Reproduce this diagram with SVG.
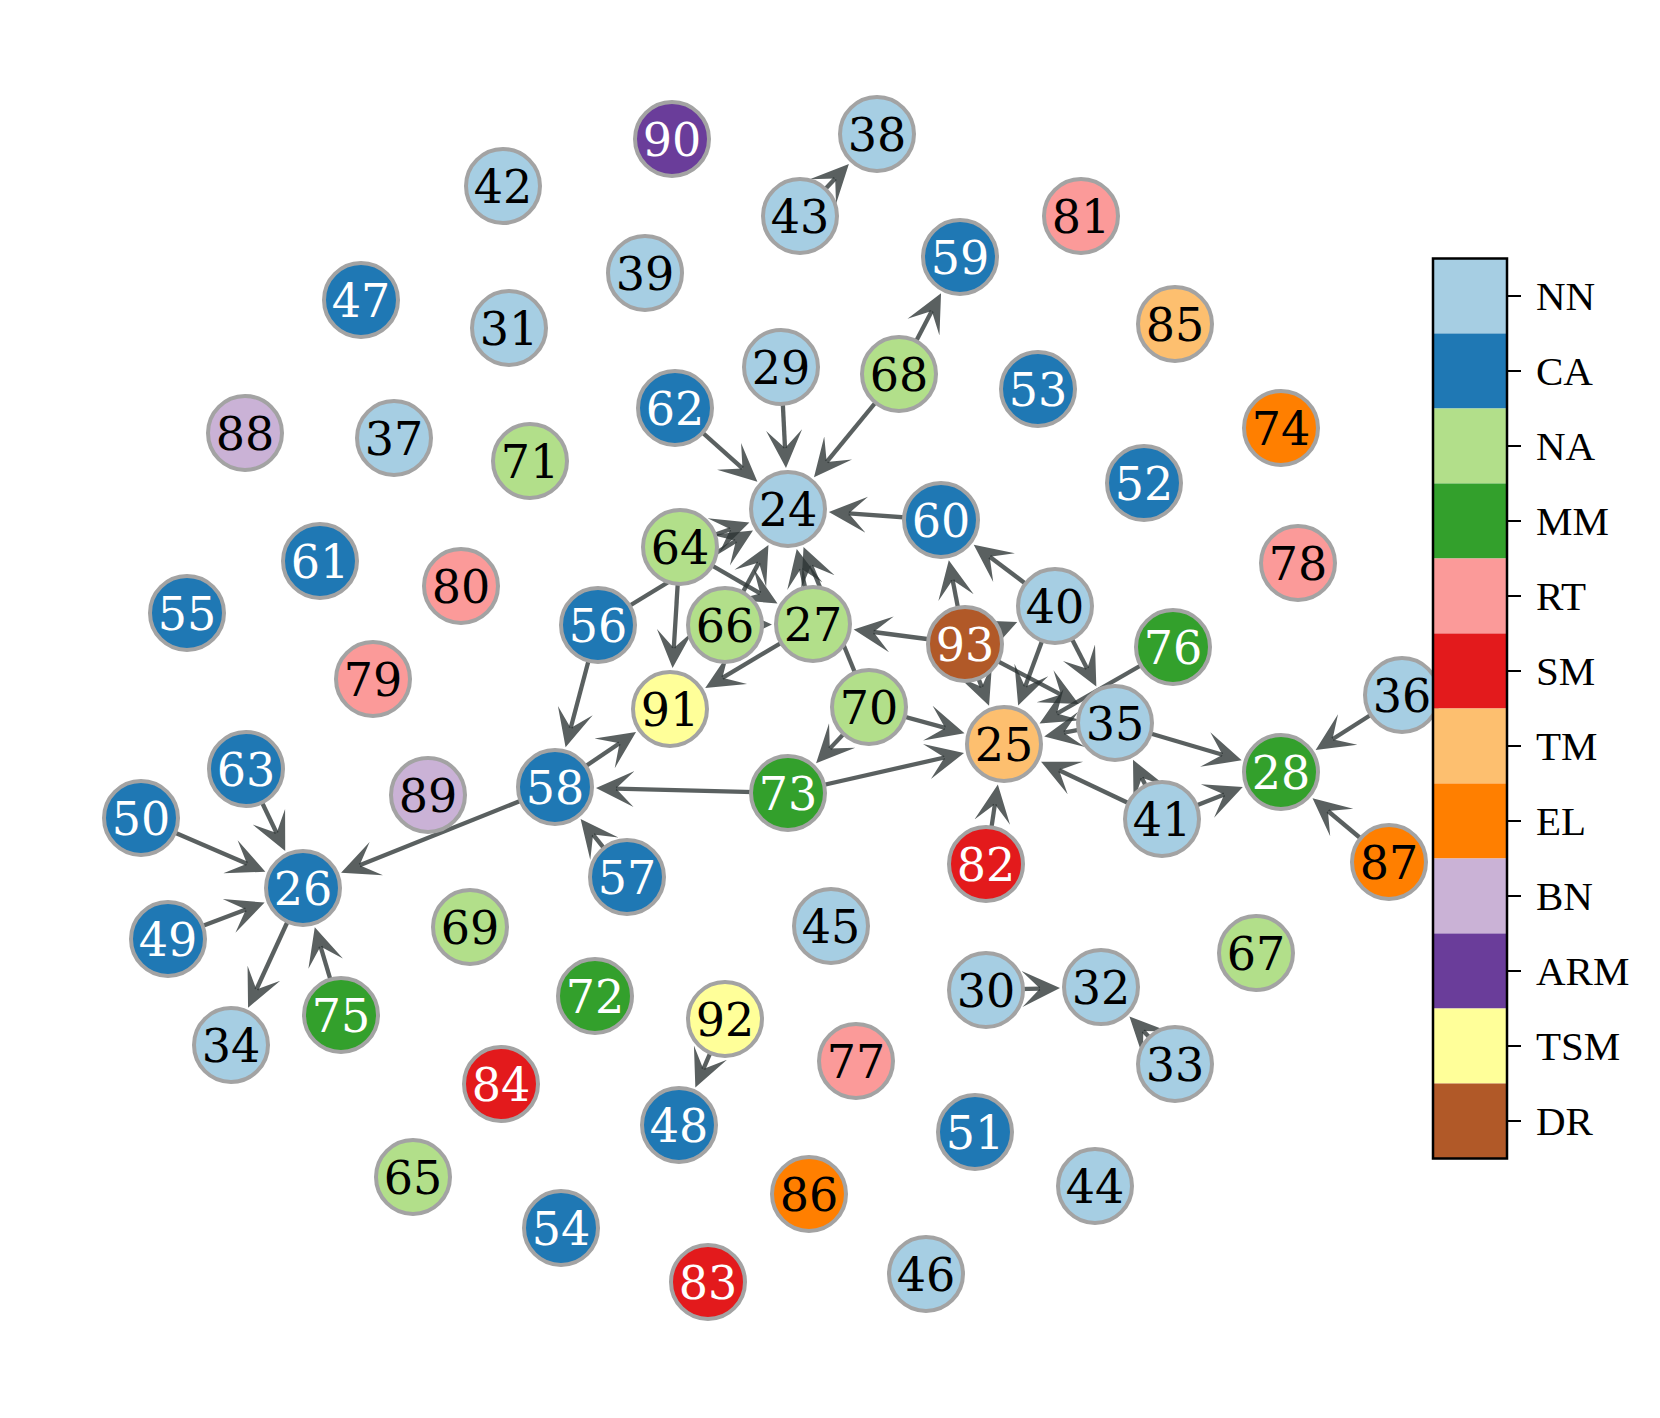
<svg xmlns="http://www.w3.org/2000/svg" width="1660" height="1418" viewBox="0 0 1660 1418">
<defs>
<marker id="ah" viewBox="0 0 40 40" markerWidth="40" markerHeight="40" refX="18" refY="20" orient="auto" markerUnits="userSpaceOnUse">
<path d="M38,20 L0,2 L18,20 L0,38 Z" fill="#2b3333" fill-opacity="0.78"/>
</marker>
</defs>
<style>
.e line{stroke:#2b3333;stroke-opacity:0.78;stroke-width:4.3;marker-end:url(#ah)}
.nd circle{stroke:#a3a3a3;stroke-width:4}
.nd text{font-family:"DejaVu Serif",serif;font-size:46px;text-anchor:middle}
.w text{fill:#ffffff}
.k text{fill:#000000}
.NN{fill:#a6cee3}.CA{fill:#1f78b4}.NA{fill:#b2df8a}.MM{fill:#33a02c}.RT{fill:#fb9a99}.SM{fill:#e31a1c}
.TM{fill:#fdbf6f}.EL{fill:#ff7f00}.BN{fill:#cab2d6}.ARM{fill:#6a3d9a}.TSM{fill:#ffff99}.DR{fill:#b15928}
.cb text{font-family:"Liberation Serif",serif;font-size:41px;fill:#000}
.cb line{stroke:#000;stroke-width:2}
</style>
<rect width="1660" height="1418" fill="#ffffff"/>
<g id="connectors" class="e">
<line x1="800" y1="216" x2="835.2" y2="178.5"/>
<line x1="899" y1="374" x2="931.8" y2="311.1"/>
<line x1="899" y1="374" x2="826.7" y2="461.9"/>
<line x1="781" y1="367" x2="785" y2="448.1"/>
<line x1="675" y1="408" x2="742.5" y2="468.4"/>
<line x1="941" y1="520" x2="848.8" y2="513.4"/>
<line x1="680" y1="547" x2="730.5" y2="529.2"/>
<line x1="598" y1="625" x2="735.9" y2="540.8"/>
<line x1="725" y1="625" x2="758.9" y2="562.6"/>
<line x1="813" y1="624" x2="801" y2="568.6"/>
<line x1="869" y1="707" x2="811.1" y2="565.5"/>
<line x1="680" y1="547" x2="760.2" y2="593.4"/>
<line x1="725" y1="625" x2="752" y2="624.7"/>
<line x1="680" y1="547" x2="673.8" y2="648.1"/>
<line x1="813" y1="624" x2="722.4" y2="677.8"/>
<line x1="598" y1="625" x2="570.7" y2="728"/>
<line x1="555" y1="787" x2="619.5" y2="743.2"/>
<line x1="788" y1="793" x2="616" y2="788.6"/>
<line x1="627" y1="877" x2="593.1" y2="834.6"/>
<line x1="555" y1="787" x2="359.6" y2="865.3"/>
<line x1="246" y1="769" x2="276.6" y2="833"/>
<line x1="141" y1="818" x2="247" y2="863.8"/>
<line x1="168" y1="939" x2="245.9" y2="909.6"/>
<line x1="341" y1="1015" x2="320.5" y2="946.4"/>
<line x1="303" y1="888" x2="256.4" y2="989.5"/>
<line x1="869" y1="707" x2="829.8" y2="748.6"/>
<line x1="869" y1="707" x2="945.2" y2="727.9"/>
<line x1="788" y1="793" x2="944.5" y2="757.5"/>
<line x1="965" y1="644" x2="873.5" y2="632"/>
<line x1="965" y1="644" x2="952.6" y2="579.9"/>
<line x1="965" y1="644" x2="998.8" y2="629.7"/>
<line x1="965" y1="644" x2="981.8" y2="687.1"/>
<line x1="965" y1="644" x2="1061" y2="694.6"/>
<line x1="1055" y1="606" x2="989.7" y2="556.7"/>
<line x1="1055" y1="606" x2="1087.2" y2="668.7"/>
<line x1="1055" y1="606" x2="1025.1" y2="686.8"/>
<line x1="1173" y1="647" x2="1056.9" y2="713.6"/>
<line x1="1115" y1="723" x2="1063.9" y2="732.7"/>
<line x1="1115" y1="723" x2="1222.5" y2="754.7"/>
<line x1="1162" y1="819" x2="1059.1" y2="770.2"/>
<line x1="1162" y1="819" x2="1141.8" y2="777.8"/>
<line x1="1162" y1="819" x2="1224.2" y2="794.4"/>
<line x1="1402" y1="695" x2="1332.5" y2="739.2"/>
<line x1="1389" y1="862" x2="1327.9" y2="811"/>
<line x1="986" y1="864" x2="994.9" y2="804.3"/>
<line x1="986" y1="990" x2="1040" y2="988.6"/>
<line x1="1175" y1="1064" x2="1143.3" y2="1031"/>
<line x1="725" y1="1019" x2="703.3" y2="1069.1"/>
</g>
<g id="nodes">
<g id="n90" class="nd w"><circle class="ARM" cx="672" cy="139" r="37"/><text x="672" y="155.5">90</text></g>
<g id="n38" class="nd k"><circle class="NN" cx="877" cy="134" r="37"/><text x="877" y="150.5">38</text></g>
<g id="n43" class="nd k"><circle class="NN" cx="800" cy="216" r="37"/><text x="800" y="232.5">43</text></g>
<g id="n42" class="nd k"><circle class="NN" cx="503" cy="186" r="37"/><text x="503" y="202.5">42</text></g>
<g id="n81" class="nd k"><circle class="RT" cx="1081" cy="216" r="37"/><text x="1081" y="232.5">81</text></g>
<g id="n59" class="nd w"><circle class="CA" cx="960" cy="257" r="37"/><text x="960" y="273.5">59</text></g>
<g id="n39" class="nd k"><circle class="NN" cx="645" cy="273" r="37"/><text x="645" y="289.5">39</text></g>
<g id="n47" class="nd w"><circle class="CA" cx="361" cy="300" r="37"/><text x="361" y="316.5">47</text></g>
<g id="n31" class="nd k"><circle class="NN" cx="509" cy="328" r="37"/><text x="509" y="344.5">31</text></g>
<g id="n85" class="nd k"><circle class="TM" cx="1175" cy="324" r="37"/><text x="1175" y="340.5">85</text></g>
<g id="n29" class="nd k"><circle class="NN" cx="781" cy="367" r="37"/><text x="781" y="383.5">29</text></g>
<g id="n68" class="nd k"><circle class="NA" cx="899" cy="374" r="37"/><text x="899" y="390.5">68</text></g>
<g id="n62" class="nd w"><circle class="CA" cx="675" cy="408" r="37"/><text x="675" y="424.5">62</text></g>
<g id="n53" class="nd w"><circle class="CA" cx="1038" cy="389" r="37"/><text x="1038" y="405.5">53</text></g>
<g id="n74" class="nd k"><circle class="EL" cx="1281" cy="428" r="37"/><text x="1281" y="444.5">74</text></g>
<g id="n88" class="nd k"><circle class="BN" cx="245" cy="433" r="37"/><text x="245" y="449.5">88</text></g>
<g id="n37" class="nd k"><circle class="NN" cx="394" cy="438" r="37"/><text x="394" y="454.5">37</text></g>
<g id="n71" class="nd k"><circle class="NA" cx="530" cy="461" r="37"/><text x="530" y="477.5">71</text></g>
<g id="n52" class="nd w"><circle class="CA" cx="1144" cy="483" r="37"/><text x="1144" y="499.5">52</text></g>
<g id="n24" class="nd k"><circle class="NN" cx="788" cy="509" r="37"/><text x="788" y="525.5">24</text></g>
<g id="n60" class="nd w"><circle class="CA" cx="941" cy="520" r="37"/><text x="941" y="536.5">60</text></g>
<g id="n64" class="nd k"><circle class="NA" cx="680" cy="547" r="37"/><text x="680" y="563.5">64</text></g>
<g id="n78" class="nd k"><circle class="RT" cx="1298" cy="563" r="37"/><text x="1298" y="579.5">78</text></g>
<g id="n61" class="nd w"><circle class="CA" cx="320" cy="561" r="37"/><text x="320" y="577.5">61</text></g>
<g id="n80" class="nd k"><circle class="RT" cx="461" cy="586" r="37"/><text x="461" y="602.5">80</text></g>
<g id="n55" class="nd w"><circle class="CA" cx="187" cy="613" r="37"/><text x="187" y="629.5">55</text></g>
<g id="n56" class="nd w"><circle class="CA" cx="598" cy="625" r="37"/><text x="598" y="641.5">56</text></g>
<g id="n66" class="nd k"><circle class="NA" cx="725" cy="625" r="37"/><text x="725" y="641.5">66</text></g>
<g id="n27" class="nd k"><circle class="NA" cx="813" cy="624" r="37"/><text x="813" y="640.5">27</text></g>
<g id="n93" class="nd w"><circle class="DR" cx="965" cy="644" r="37"/><text x="965" y="660.5">93</text></g>
<g id="n40" class="nd k"><circle class="NN" cx="1055" cy="606" r="37"/><text x="1055" y="622.5">40</text></g>
<g id="n76" class="nd w"><circle class="MM" cx="1173" cy="647" r="37"/><text x="1173" y="663.5">76</text></g>
<g id="n79" class="nd k"><circle class="RT" cx="373" cy="679" r="37"/><text x="373" y="695.5">79</text></g>
<g id="n91" class="nd k"><circle class="TSM" cx="670" cy="709" r="37"/><text x="670" y="725.5">91</text></g>
<g id="n70" class="nd k"><circle class="NA" cx="869" cy="707" r="37"/><text x="869" y="723.5">70</text></g>
<g id="n35" class="nd k"><circle class="NN" cx="1115" cy="723" r="37"/><text x="1115" y="739.5">35</text></g>
<g id="n36" class="nd k"><circle class="NN" cx="1402" cy="695" r="37"/><text x="1402" y="711.5">36</text></g>
<g id="n25" class="nd k"><circle class="TM" cx="1004" cy="744" r="37"/><text x="1004" y="760.5">25</text></g>
<g id="n28" class="nd w"><circle class="MM" cx="1281" cy="772" r="37"/><text x="1281" y="788.5">28</text></g>
<g id="n63" class="nd w"><circle class="CA" cx="246" cy="769" r="37"/><text x="246" y="785.5">63</text></g>
<g id="n89" class="nd k"><circle class="BN" cx="428" cy="795" r="37"/><text x="428" y="811.5">89</text></g>
<g id="n58" class="nd w"><circle class="CA" cx="555" cy="787" r="37"/><text x="555" y="803.5">58</text></g>
<g id="n73" class="nd w"><circle class="MM" cx="788" cy="793" r="37"/><text x="788" y="809.5">73</text></g>
<g id="n41" class="nd k"><circle class="NN" cx="1162" cy="819" r="37"/><text x="1162" y="835.5">41</text></g>
<g id="n50" class="nd w"><circle class="CA" cx="141" cy="818" r="37"/><text x="141" y="834.5">50</text></g>
<g id="n87" class="nd k"><circle class="EL" cx="1389" cy="862" r="37"/><text x="1389" y="878.5">87</text></g>
<g id="n82" class="nd w"><circle class="SM" cx="986" cy="864" r="37"/><text x="986" y="880.5">82</text></g>
<g id="n26" class="nd w"><circle class="CA" cx="303" cy="888" r="37"/><text x="303" y="904.5">26</text></g>
<g id="n57" class="nd w"><circle class="CA" cx="627" cy="877" r="37"/><text x="627" y="893.5">57</text></g>
<g id="n45" class="nd k"><circle class="NN" cx="831" cy="926" r="37"/><text x="831" y="942.5">45</text></g>
<g id="n69" class="nd k"><circle class="NA" cx="470" cy="927" r="37"/><text x="470" y="943.5">69</text></g>
<g id="n49" class="nd w"><circle class="CA" cx="168" cy="939" r="37"/><text x="168" y="955.5">49</text></g>
<g id="n67" class="nd k"><circle class="NA" cx="1256" cy="953" r="37"/><text x="1256" y="969.5">67</text></g>
<g id="n30" class="nd k"><circle class="NN" cx="986" cy="990" r="37"/><text x="986" y="1006.5">30</text></g>
<g id="n32" class="nd k"><circle class="NN" cx="1101" cy="987" r="37"/><text x="1101" y="1003.5">32</text></g>
<g id="n72" class="nd w"><circle class="MM" cx="595" cy="996" r="37"/><text x="595" y="1012.5">72</text></g>
<g id="n92" class="nd k"><circle class="TSM" cx="725" cy="1019" r="37"/><text x="725" y="1035.5">92</text></g>
<g id="n75" class="nd w"><circle class="MM" cx="341" cy="1015" r="37"/><text x="341" y="1031.5">75</text></g>
<g id="n34" class="nd k"><circle class="NN" cx="231" cy="1045" r="37"/><text x="231" y="1061.5">34</text></g>
<g id="n33" class="nd k"><circle class="NN" cx="1175" cy="1064" r="37"/><text x="1175" y="1080.5">33</text></g>
<g id="n77" class="nd k"><circle class="RT" cx="856" cy="1061" r="37"/><text x="856" y="1077.5">77</text></g>
<g id="n84" class="nd w"><circle class="SM" cx="501" cy="1084" r="37"/><text x="501" y="1100.5">84</text></g>
<g id="n48" class="nd w"><circle class="CA" cx="679" cy="1125" r="37"/><text x="679" y="1141.5">48</text></g>
<g id="n51" class="nd w"><circle class="CA" cx="975" cy="1132" r="37"/><text x="975" y="1148.5">51</text></g>
<g id="n65" class="nd k"><circle class="NA" cx="413" cy="1177" r="37"/><text x="413" y="1193.5">65</text></g>
<g id="n44" class="nd k"><circle class="NN" cx="1095" cy="1186" r="37"/><text x="1095" y="1202.5">44</text></g>
<g id="n86" class="nd k"><circle class="EL" cx="809" cy="1194" r="37"/><text x="809" y="1210.5">86</text></g>
<g id="n54" class="nd w"><circle class="CA" cx="561" cy="1228" r="37"/><text x="561" y="1244.5">54</text></g>
<g id="n46" class="nd k"><circle class="NN" cx="926" cy="1274" r="37"/><text x="926" y="1290.5">46</text></g>
<g id="n83" class="nd w"><circle class="SM" cx="708" cy="1282" r="37"/><text x="708" y="1298.5">83</text></g>
</g>
<g id="colorbar" class="cb">
<rect class="NN" x="1433" y="258.5" width="74" height="75"/>
<rect class="CA" x="1433" y="333.5" width="74" height="75"/>
<rect class="NA" x="1433" y="408.5" width="74" height="75"/>
<rect class="MM" x="1433" y="483.5" width="74" height="75"/>
<rect class="RT" x="1433" y="558.5" width="74" height="75"/>
<rect class="SM" x="1433" y="633.5" width="74" height="75"/>
<rect class="TM" x="1433" y="708.5" width="74" height="75"/>
<rect class="EL" x="1433" y="783.5" width="74" height="75"/>
<rect class="BN" x="1433" y="858.5" width="74" height="75"/>
<rect class="ARM" x="1433" y="933.5" width="74" height="75"/>
<rect class="TSM" x="1433" y="1008.5" width="74" height="75"/>
<rect class="DR" x="1433" y="1083.5" width="74" height="75"/>
<rect x="1433" y="258.5" width="74" height="900" fill="none" stroke="#000" stroke-width="2.5"/>
<line x1="1507" y1="296" x2="1521" y2="296"/>
<line x1="1507" y1="371" x2="1521" y2="371"/>
<line x1="1507" y1="446" x2="1521" y2="446"/>
<line x1="1507" y1="521" x2="1521" y2="521"/>
<line x1="1507" y1="596" x2="1521" y2="596"/>
<line x1="1507" y1="671" x2="1521" y2="671"/>
<line x1="1507" y1="746" x2="1521" y2="746"/>
<line x1="1507" y1="821" x2="1521" y2="821"/>
<line x1="1507" y1="896" x2="1521" y2="896"/>
<line x1="1507" y1="971" x2="1521" y2="971"/>
<line x1="1507" y1="1046" x2="1521" y2="1046"/>
<line x1="1507" y1="1121" x2="1521" y2="1121"/>
<text x="1536" y="310">NN</text>
<text x="1536" y="385">CA</text>
<text x="1536" y="460">NA</text>
<text x="1536" y="535">MM</text>
<text x="1536" y="610">RT</text>
<text x="1536" y="685">SM</text>
<text x="1536" y="760">TM</text>
<text x="1536" y="835">EL</text>
<text x="1536" y="910">BN</text>
<text x="1536" y="985">ARM</text>
<text x="1536" y="1060">TSM</text>
<text x="1536" y="1135">DR</text>
</g>
</svg>
